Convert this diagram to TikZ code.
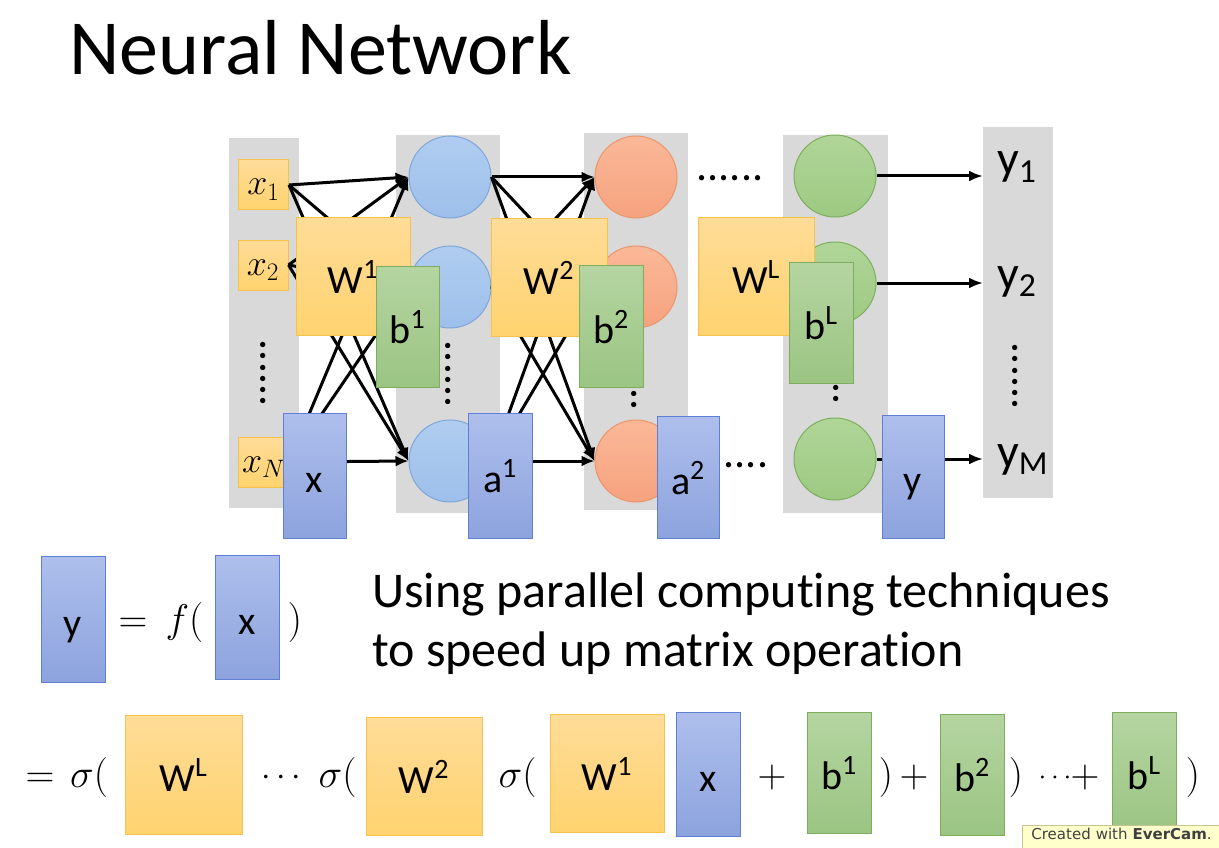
\RequirePackage{fix-cm}
\documentclass[tikz,border=0pt]{standalone}
\usepackage{fontspec}
\setmainfont{Carlito}[Ligatures=NoCommon]
\newfontfamily\stampfont{DejaVu Sans}
\usetikzlibrary{arrows.meta, positioning}
\definecolor{colgray}{HTML}{D9D9D9}
\definecolor{wtop}{HTML}{FFDC98}
\definecolor{wbot}{HTML}{FFD36F}
\definecolor{wline}{HTML}{F5C24C}
\definecolor{btop}{HTML}{B5D4A1}
\definecolor{bbot}{HTML}{9BC583}
\definecolor{bline}{HTML}{7DAE5E}
\definecolor{atop}{HTML}{AEBFEC}
\definecolor{abot}{HTML}{8DA3DE}
\definecolor{aline}{HTML}{5F7FD4}
\definecolor{bluetop}{HTML}{B0CDF0}
\definecolor{bluebot}{HTML}{9DBFEA}
\definecolor{blueline}{HTML}{7EA6DA}
\definecolor{orangetop}{HTML}{FAB898}
\definecolor{orangebot}{HTML}{F6A27E}
\definecolor{orangeline}{HTML}{EC956C}
\definecolor{greentop}{HTML}{B0D598}
\definecolor{greenbot}{HTML}{9DC982}
\definecolor{greenline}{HTML}{7DAF5C}
\definecolor{stampbg}{HTML}{FFFFCC}
\definecolor{stampline}{HTML}{C9C38E}
\newcommand{\boxfont}{\fontsize{40}{44}\selectfont}
\newcommand{\eqfont}{\fontsize{40}{44}\selectfont}
\tikzset{
  layercol/.style = {rectangle, fill=colgray, draw=none, inner sep=0pt},
  inbox/.style    = {rectangle, top color=wtop, bottom color=wbot, draw=wline, line width=1pt,
                     minimum width=50pt, minimum height=50pt, inner sep=0pt,
                     text height=24pt, text depth=4pt, font=\fontsize{36}{40}\selectfont},
  wmat/.style     = {rectangle, top color=wtop, bottom color=wbot, draw=wline, line width=1pt,
                     inner sep=0pt, text height=36pt, text depth=2pt, font=\boxfont},
  bvec/.style     = {rectangle, top color=btop, bottom color=bbot, draw=bline, line width=1pt,
                     inner sep=0pt, text height=36pt, text depth=2pt, font=\boxfont},
  avec/.style     = {rectangle, top color=atop, bottom color=abot, draw=aline, line width=1pt,
                     inner sep=0pt, text height=36pt, text depth=2pt, font=\boxfont},
  neuron/.style   = {circle, minimum size=82pt, inner sep=0pt, line width=1pt},
  hidone/.style   = {neuron, top color=bluetop, bottom color=bluebot, draw=blueline},
  hidtwo/.style   = {neuron, top color=orangetop, bottom color=orangebot, draw=orangeline},
  hidlast/.style  = {neuron, top color=greentop, bottom color=greenbot, draw=greenline},
  link/.style     = {-{Latex[length=13pt,width=11pt]}, line width=3pt, draw=black},
  outlink/.style  = {-{Latex[length=14pt,width=11pt]}, line width=3pt, draw=black, shorten >=14pt},
  dotrow/.style   = {font=\fontsize{44}{44}\selectfont, inner sep=0pt},
  outlabel/.style = {anchor=base west, inner sep=0pt, font=\fontsize{48}{50}\selectfont},
  eqsym/.style    = {anchor=base, inner sep=0pt, font=\eqfont},
  stamp/.style    = {rectangle, fill=stampbg, draw=stampline, line width=0.8pt, inner xsep=9pt,
                     inner ysep=3pt, text width=200pt, align=left, text height=11pt, text depth=20pt,
                     font=\stampfont\fontsize{15}{17}\selectfont, text=black!75},
}

\begin{document}
\begin{tikzpicture}[x=1pt, y=-1pt]
  \useasboundingbox (0,0) rectangle (1219,848);

  \node[anchor=base west, inner sep=0pt, font=\fontsize{78}{82}\selectfont] (title) at (69,75) {Neural Network};

  % layer columns
  \node[layercol, minimum width=70pt, minimum height=370pt] (col0) at (264,323) {};
  \node[layercol, minimum width=104pt, minimum height=378pt] (col1) at (448,324) {};
  \node[layercol, minimum width=104pt, minimum height=377pt] (col2) at (636,321.5) {};
  \node[layercol, minimum width=105pt, minimum height=378pt] (col3) at (835.5,324) {};
  \node[layercol, minimum width=70pt, minimum height=371pt] (col4) at (1018,312.5) {};

  % inputs
  \node[inbox] (in1) at (263.5,185) {$x_1$};
  \node[inbox] (in2) at (263,265) {$x_2$};
  \node[inbox] (in3) at (263.5,462) {$x_N$};

  % neurons
  \foreach \n/\y in {1/177,2/287,3/461} {
    \node[hidone] (n1\n) at (450,\y) {};
    \node[hidtwo] (n2\n) at (636,\y) {};
  }
  \node[hidlast] (nL1) at (835,176) {};
  \node[hidlast] (nL2) at (835,283) {};
  \node[hidlast] (nL3) at (835,459) {};

  \foreach \i in {1,2,3} {
    \foreach \j in {1,2,3} {
      \draw[link] (in\i.east) -- (n1\j.west);
      \draw[link] (n1\i.east) -- (n2\j.west);
    }
  }

  % outputs
  \node[outlabel] (out1) at (997,175) {y\textsubscript{1}};
  \node[outlabel] (out2) at (997,289) {y\textsubscript{2}};
  \node[outlabel] (out3) at (997,467) {y\textsubscript{M}};
  \foreach \i in {1,2,3}
    \draw[outlink] (nL\i) -- (nL\i -| out\i.west);

  % dots
  \node[dotrow, rotate=90] (vd0) at (263,373) {......};
  \node[dotrow, rotate=90] (vd1) at (448,374) {......};
  \node[dotrow, rotate=90] (vd2) at (634,377) {......};
  \node[dotrow, rotate=90] (vd3) at (836,371) {......};
  \node[dotrow, rotate=90] (vd4) at (1015,376) {......};
  \node[dotrow] (hd1) at (730,178) {......};
  \node[dotrow] (hd2) at (746,465) {....};

  % matrices, biases, vectors
  \node[wmat, minimum width=114pt, minimum height=118pt] (W1) at (353,276) {W\textsuperscript{1}};
  \node[wmat, minimum width=116pt, minimum height=118pt] (W2) at (549,277) {W\textsuperscript{2}};
  \node[wmat, minimum width=116pt, minimum height=118pt] (WL) at (756,276) {W\textsuperscript{L}};
  \node[bvec, minimum width=63pt, minimum height=121pt] (b1) at (407.5,326.5) {b\textsuperscript{1}};
  \node[bvec, minimum width=64pt, minimum height=122pt] (b2) at (611,326) {b\textsuperscript{2}};
  \node[bvec, minimum width=64pt, minimum height=121pt] (bL) at (821,322.5) {b\textsuperscript{L}};
  \node[avec, minimum width=63pt, minimum height=125pt] (xv) at (314.5,475.5) {x};
  \node[avec, minimum width=64pt, minimum height=125pt] (a1) at (500,475.5) {a\textsuperscript{1}};
  \node[avec, minimum width=62pt, minimum height=122pt] (a2) at (688,477) {a\textsuperscript{2}};
  \node[avec, minimum width=62pt, minimum height=123pt] (yv) at (913,476.5) {y};

  % y = f(x)
  \node[avec, minimum width=64pt, minimum height=126pt] (fy) at (73,619) {y};
  \node[eqsym] (feq) at (133,632) {$=$};
  \node[eqsym] (fopen) at (184.5,632) {$f($};
  \node[avec, minimum width=64pt, minimum height=124pt] (fx) at (247,617) {x};
  \node[eqsym] (fclose) at (295,632) {$)$};
  \node[anchor=base west, inner sep=0pt, font=\fontsize{50}{60}\selectfont] (txt1) at (372,607)
    {Using parallel computing techniques};
  \node[anchor=base west, inner sep=0pt, font=\fontsize{50}{60}\selectfont] (txt2) at (372,666)
    {to speed up matrix operation};

  % expanded form
  \node[eqsym] (eq0) at (40,787) {$=$};
  \node[eqsym] (sg3) at (89,787) {$\sigma($};
  \node[wmat, minimum width=117pt, minimum height=119pt] (eWL) at (183.5,774.5) {W\textsuperscript{L}};
  \node[eqsym, font=\fontsize{34}{38}\selectfont] (dots1) at (281,785) {$\cdots$};
  \node[eqsym] (sg2) at (337.5,787) {$\sigma($};
  \node[wmat, minimum width=116pt, minimum height=118pt] (eW2) at (424,776) {W\textsuperscript{2}};
  \node[eqsym] (sg1) at (517.5,787) {$\sigma($};
  \node[wmat, minimum width=114pt, minimum height=118pt] (eW1) at (607,773) {W\textsuperscript{1}};
  \node[avec, minimum width=64pt, minimum height=124pt] (ex) at (708,774) {x};
  \node[eqsym] (pl1) at (772,787) {$+$};
  \node[bvec, minimum width=64pt, minimum height=121pt] (eb1) at (839,772.5) {b\textsuperscript{1}};
  \node[eqsym] (cl1) at (886,787) {$)$};
  \node[eqsym] (pl2) at (914,787) {$+$};
  \node[bvec, minimum width=64pt, minimum height=121pt] (eb2) at (972,774.5) {b\textsuperscript{2}};
  \node[eqsym] (cl2) at (1016,787) {$)$};
  \node[eqsym, font=\fontsize{28}{32}\selectfont] (dots2) at (1055,784) {$\cdots$};
  \node[eqsym] (pl3) at (1085,787) {$+$};
  \node[bvec, minimum width=64pt, minimum height=121pt] (ebL) at (1144,772.5) {b\textsuperscript{L}};
  \node[eqsym] (cl3) at (1193,787) {$)$};

  \node[stamp, anchor=north west] (stamp) at (1022,825) {Created with \textbf{EverCam}.};
\end{tikzpicture}
\end{document}
